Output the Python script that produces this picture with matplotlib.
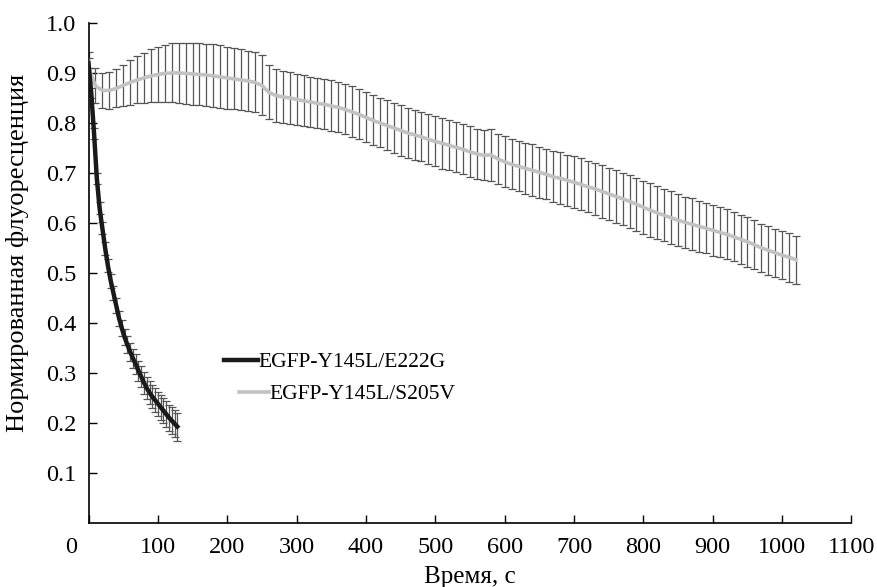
import matplotlib
matplotlib.use('Agg')
import matplotlib.pyplot as plt
from matplotlib.transforms import ScaledTranslation

plt.rcParams['font.family'] = ['Liberation Serif', 'DejaVu Serif']

# Данные: EGFP-Y145L/S205V (серая кривая), шаг 10 с
t_s205v = list(range(0, 1021, 10))
y_s205v = [0.912, 0.875, 0.866, 0.866, 0.870, 0.876, 0.882, 0.887, 0.891, 0.895,
           0.898, 0.900, 0.901, 0.901, 0.900, 0.899, 0.898, 0.897, 0.895, 0.893,
           0.891, 0.889, 0.887, 0.885, 0.882, 0.876, 0.862, 0.856, 0.853, 0.851,
           0.848, 0.845, 0.843, 0.840, 0.838, 0.835, 0.832, 0.828, 0.823, 0.818,
           0.812, 0.806, 0.801, 0.796, 0.791, 0.786, 0.781, 0.777, 0.773, 0.768,
           0.764, 0.760, 0.756, 0.752, 0.748, 0.743, 0.739, 0.736, 0.737, 0.729,
           0.723, 0.718, 0.714, 0.710, 0.706, 0.702, 0.698, 0.693, 0.690, 0.686,
           0.682, 0.678, 0.673, 0.669, 0.664, 0.659, 0.654, 0.649, 0.644, 0.638,
           0.632, 0.626, 0.621, 0.616, 0.611, 0.606, 0.602, 0.598, 0.594, 0.590,
           0.586, 0.582, 0.578, 0.573, 0.568, 0.563, 0.557, 0.551, 0.546, 0.541,
           0.536, 0.532, 0.527]
err_s205v = [0.030, 0.035, 0.035, 0.037, 0.038, 0.041, 0.045, 0.047, 0.050, 0.053,
             0.055, 0.057, 0.059, 0.060, 0.061, 0.062, 0.062, 0.062, 0.063, 0.063,
             0.062, 0.061, 0.061, 0.060, 0.060, 0.060, 0.054, 0.053, 0.052, 0.052,
             0.051, 0.051, 0.050, 0.050, 0.050, 0.051, 0.050, 0.050, 0.051, 0.050,
             0.050, 0.050, 0.049, 0.050, 0.050, 0.051, 0.050, 0.050, 0.049, 0.050,
             0.050, 0.051, 0.050, 0.050, 0.050, 0.051, 0.050, 0.050, 0.052, 0.050,
             0.051, 0.050, 0.050, 0.051, 0.052, 0.051, 0.050, 0.051, 0.052, 0.051,
             0.052, 0.052, 0.051, 0.052, 0.053, 0.052, 0.053, 0.052, 0.053, 0.053,
             0.053, 0.054, 0.053, 0.052, 0.053, 0.052, 0.051, 0.052, 0.051, 0.050,
             0.051, 0.050, 0.050, 0.049, 0.049, 0.050, 0.049, 0.048, 0.049, 0.048,
             0.048, 0.049, 0.048]

# Данные: EGFP-Y145L/E222G (чёрная кривая), шаг 4 с
t_e222g = list(range(0, 129, 4))
y_e222g = [0.920, 0.860, 0.780, 0.690, 0.630, 0.590, 0.550, 0.515, 0.485, 0.460,
           0.435, 0.410, 0.390, 0.372, 0.357, 0.343, 0.330, 0.318, 0.305, 0.293,
           0.281, 0.270, 0.261, 0.253, 0.246, 0.239, 0.232, 0.225, 0.218, 0.211,
           0.205, 0.199, 0.193]
err_e222g = [0.010, 0.010, 0.011, 0.011, 0.012, 0.012, 0.013, 0.013, 0.014, 0.014,
             0.015, 0.015, 0.016, 0.016, 0.017, 0.018, 0.019, 0.020, 0.020, 0.021,
             0.022, 0.022, 0.023, 0.023, 0.024, 0.024, 0.025, 0.025, 0.026, 0.026,
             0.027, 0.027, 0.028]

x_ticks = list(range(0, 1101, 100))
y_ticks = [0.1, 0.2, 0.3, 0.4, 0.5, 0.6, 0.7, 0.8, 0.9, 1.0]

fig = plt.figure(figsize=(8.78, 5.87), dpi=100)
ax = fig.add_axes([0.1008, 0.109, 0.869, 0.851])

# Серая кривая с планками погрешностей
ax.errorbar(t_s205v, y_s205v, yerr=err_s205v, fmt='none', ecolor='#555555',
            elinewidth=0.9, capsize=2.6, capthick=0.9, zorder=2)
g_line, = ax.plot(t_s205v, y_s205v, color='#c2c2c2', lw=2.6, zorder=3)

# Чёрная кривая
ax.errorbar(t_e222g, y_e222g, yerr=err_e222g, fmt='none', ecolor='#555555',
            elinewidth=0.9, capsize=2.6, capthick=0.9, zorder=4)
b_line, = ax.plot(t_e222g, y_e222g, color='#1a1a1a', lw=3.2, zorder=5)

ax.set_xlim(0, 1100)
ax.set_ylim(0, 1.0)
ax.set_xticks(x_ticks)
ax.set_xticklabels([str(v) for v in x_ticks])
ax.set_yticks(y_ticks)
ax.set_yticklabels(['%.1f' % v for v in y_ticks])
ax.tick_params(direction='in', length=6, width=1, labelsize=17.5, color='black')
ax.tick_params(axis='x', pad=10)
ax.tick_params(axis='y', pad=9)

# подпись "0" сдвинута влево, как в оригинале
lab0 = ax.get_xticklabels()[0]
lab0.set_transform(lab0.get_transform() + ScaledTranslation(-17 / 100, 0, fig.dpi_scale_trans))

for s in ['top', 'right']:
    ax.spines[s].set_visible(False)
for s in ['left', 'bottom']:
    ax.spines[s].set_linewidth(1.2)

ax.set_xlabel('Время, с', fontsize=18, labelpad=6)
ax.set_ylabel('Нормированная флуоресценция', fontsize=19, labelpad=7)
ax.yaxis.set_label_coords(-0.078, 0.54)

leg1 = ax.legend([b_line], ['EGFP-Y145L/E222G'], loc='center left',
                 bbox_to_anchor=(0.177, 0.322), frameon=False, fontsize=15.5,
                 handlelength=1.6, handletextpad=0.0, borderpad=0, borderaxespad=0)
ax.add_artist(leg1)
ax.legend([g_line], ['EGFP-Y145L/S205V'], loc='center left',
          bbox_to_anchor=(0.197, 0.258), frameon=False, fontsize=15.5,
          handlelength=1.4, handletextpad=0.0, borderpad=0, borderaxespad=0)

fig.savefig('out.png', dpi=100)
